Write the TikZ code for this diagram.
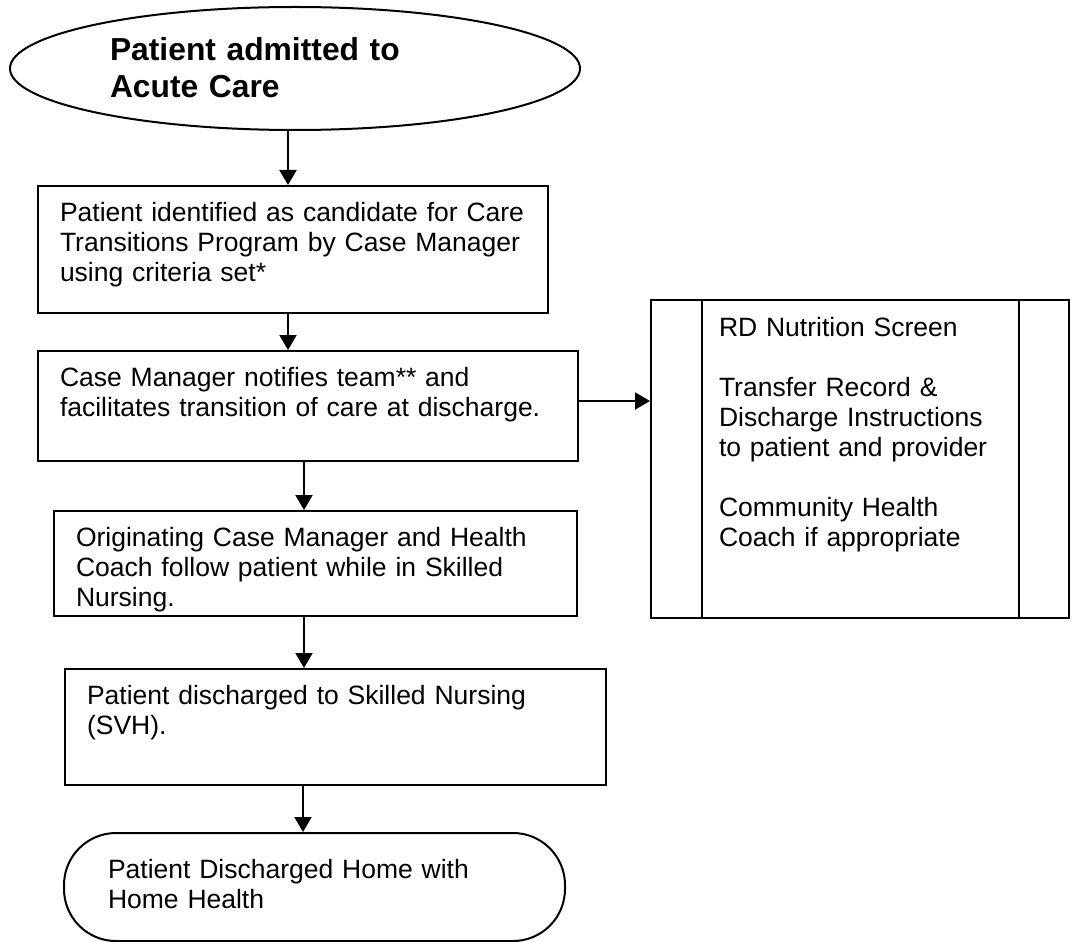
\documentclass[tikz,border=0pt]{standalone}
\usepackage{fontspec}
\setmainfont{Liberation Sans}
\usetikzlibrary{arrows.meta,shapes.geometric,calc}

\begin{document}
\begin{tikzpicture}[x=0.5pt,y=-0.5pt,>={Triangle[length=7.5pt,width=8.5pt]},line width=1pt]
	\tikzstyle{every node}=[font=\fontsize{13.25}{15}\selectfont]
	\tikzstyle{block}=[draw,rectangle,anchor=north west,align=left,inner xsep=11pt,inner ysep=0pt,text height=17.5pt]
	\useasboundingbox (0,0) rectangle (1074,941);

	\node[draw,ellipse,inner sep=0pt,minimum width=285pt,minimum height=61.5pt,text width=185pt,align=left,text height=15pt,text depth=22.5pt,font=\fontsize{15.9}{18.5}\selectfont\bfseries] (admit) at (295,68.5) {Patient admitted to\\Acute Care};
	\node[block,text width=233pt,text depth=46pt] (identify) at (37,185) {Patient identified as candidate for Care\\Transitions Program by Case Manager\\using criteria set*};
	\node[block,text width=248pt,text depth=37.5pt] (notify) at (37,350) {Case Manager notifies team** and\\facilitates transition of care at discharge.};
	\node[block,text width=239.5pt,text depth=35pt] (follow) at (53,510) {Originating Case Manager and Health\\Coach follow patient while in Skilled\\Nursing.};
	\node[block,text width=248.5pt,text depth=40.5pt] (snf) at (64,668) {Patient discharged to Skilled Nursing\\(SVH).};
	\node[block,rounded corners=26pt,inner xsep=22pt,text width=206.5pt,text height=22.5pt,text depth=31.5pt] (home) at (63,832) {Patient Discharged Home with\\Home Health};

	% side box with the two inner bars
	\node[block,inner xsep=34pt,text width=141pt,text height=18pt,text depth=141pt] (rd) at (650,299) {RD Nutrition Screen\\[15pt]Transfer Record \&\\Discharge Instructions\\to patient and provider\\[15pt]Community Health\\Coach if appropriate};
	\draw ($(rd.north west)+(52,0)$) -- ($(rd.south west)+(52,0)$);
	\draw ($(rd.north east)+(-51,0)$) -- ($(rd.south east)+(-51,0)$);

	\draw[->] ($(admit.south)+(-7,0)$) -- ($(admit.south |- identify.north)+(-7,0)$);
	\draw[->] ($(identify.south)+(-5,0)$) -- ($(identify.south |- notify.north)+(-5,0)$);
	\draw[->] ($(notify.south)+(-4,0)$) -- ($(notify.south |- follow.north)+(-4,0)$);
	\draw[->] ($(follow.south)+(-11.5,0)$) -- ($(follow.south |- snf.north)+(-11.5,0)$);
	\draw[->] ($(snf.south)+(-32.5,0)$) -- ($(snf.south |- home.north)+(-32.5,0)$);
	\draw[->] ($(notify.east)+(0,-5)$) -- ($(notify.east -| rd.west)+(0,-5)$);
\end{tikzpicture}
\end{document}
